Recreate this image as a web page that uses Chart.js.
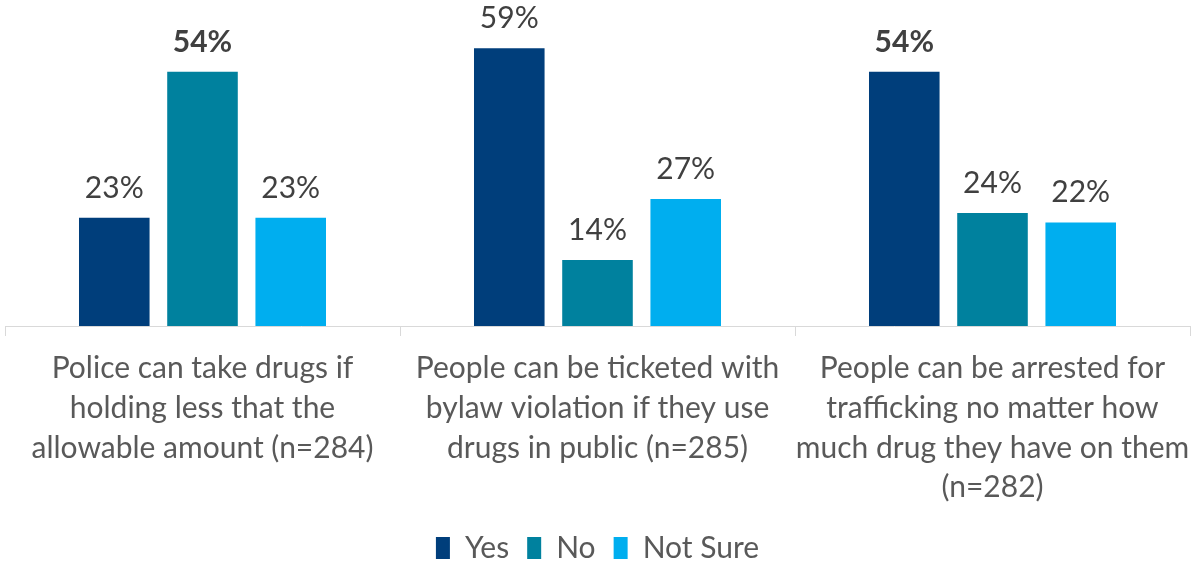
<!DOCTYPE html>
<html>
<head>
<meta charset="utf-8">
<script src="https://cdn.jsdelivr.net/npm/chart.js@4.4.1/dist/chart.umd.min.js"></script>
<style>
  html, body { margin: 0; padding: 0; background: #fff; overflow: hidden; }
</style>
</head>
<body>
<canvas id="chart" width="1193" height="561"></canvas>
<script>
// Category labels (one array entry per line)
const categories = [
  ['Police can take drugs if', 'holding less that the', 'allowable amount (n=284)'],
  ['People can be ticketed with', 'bylaw violation if they use', 'drugs in public (n=285)'],
  ['People can be arrested for', 'trafficking no matter how', 'much drug they have on them', '(n=282)']
];

const seriesNames = ['Yes', 'No', 'Not Sure'];

// Percent values per category
const yesValues = [23, 59, 54];
const noValues = [54, 14, 24];
const notSureValues = [23, 27, 22];

// Labels printed in bold in the original
const yesBold = [false, false, true];
const noBold = [true, false, false];
const notSureBold = [false, false, false];

const seriesColors = ['#003E7B', '#00819E', '#00AEEF'];
const FONT = 'Lato';

// Draw the % labels above every bar
const barLabels = {
  id: 'barLabels',
  afterDatasetsDraw(chart) {
    const ctx = chart.ctx;
    ctx.save();
    ctx.textAlign = 'center';
    ctx.textBaseline = 'alphabetic';
    ctx.fillStyle = '#404040';
    chart.data.datasets.forEach((ds, i) => {
      const meta = chart.getDatasetMeta(i);
      meta.data.forEach((bar, j) => {
        ctx.font = (ds.boldLabels[j] ? 'bold ' : '') + '30px ' + FONT;
        ctx.fillText(ds.data[j] + '%', bar.x, bar.y - 20);
      });
    });
    ctx.restore();
  }
};

const valueSets = [yesValues, noValues, notSureValues];
const boldSets = [yesBold, noBold, notSureBold];

new Chart(document.getElementById('chart').getContext('2d'), {
  type: 'bar',
  data: {
    labels: categories,
    datasets: seriesNames.map((name, i) => ({
      label: name,
      data: valueSets[i],
      boldLabels: boldSets[i],
      backgroundColor: seriesColors[i],
      borderWidth: 0,
      categoryPercentage: 0.67,
      barPercentage: 0.8
    }))
  },
  options: {
    responsive: false,
    animation: false,
    layout: {
      padding: { top: 20, left: 5, right: 3, bottom: -12 }
    },
    plugins: {
      legend: {
        position: 'bottom',
        labels: {
          boxWidth: 14,
          boxHeight: 22,
          padding: 18,
          color: '#595959',
          font: { family: FONT, size: 30 }
        }
      },
      tooltip: { enabled: false }
    },
    scales: {
      y: {
        display: false,
        min: 0,
        max: 65
      },
      x: {
        grid: {
          display: true,
          drawOnChartArea: false,
          tickLength: 10,
          color: '#D9D9D9'
        },
        border: { display: true, color: '#D9D9D9', width: 1 },
        ticks: {
          color: '#595959',
          font: { family: FONT, size: 30, lineHeight: 1.32 },
          padding: 13,
          maxRotation: 0,
          autoSkip: false
        },
        afterFit(scale) {
          scale.height = 189;
          // keep the plot full width even though the last label is wide
          scale.paddingLeft = 0;
          scale.paddingRight = 0;
        }
      }
    }
  },
  plugins: [barLabels]
});
</script>
</body>
</html>
